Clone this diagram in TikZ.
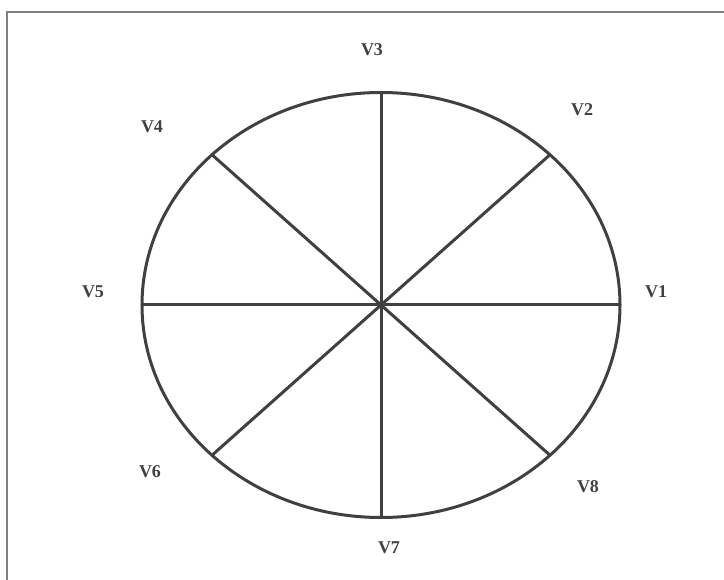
\documentclass[tikz,border=0pt]{standalone}
\usepackage{fontspec}
\setmainfont{Liberation Serif}
\usepackage{xcolor}
\definecolor{wheelgray}{RGB}{64,64,64}
\definecolor{framegray}{RGB}{128,128,128}
\usepackage{tikz}
\usetikzlibrary{calc}

\tikzset{
  spoke/.style={draw=wheelgray, line width=3pt},
  vlabel/.style={font=\fontsize{18}{18}\selectfont\bfseries, text=wheelgray, inner sep=0pt}
}

\begin{document}
\begin{tikzpicture}[x=1pt, y=-1pt]
      \useasboundingbox (0,0) rectangle (724,580);
      % frame, only its top and left sides are in view
      \draw[framegray, line width=1.5pt] (7,580) -- (7,12) -- (724,12);

      \coordinate (c) at (381,305);
      \draw[spoke] (c) ellipse [x radius=239, y radius=212.5];
      \foreach \a [count=\i] in {0,45,...,315}
            \coordinate (v\i) at ($(c)+({239*cos(\a)},{-212.5*sin(\a)})$);
      \foreach \i in {1,...,8}
            \draw[spoke, line cap=round] (c) -- (v\i);

      % labels round the wheel
      \node[vlabel] (lV1) at (656,292) {V1};
      \node[vlabel] (lV2) at (582,110) {V2};
      \node[vlabel] (lV3) at (372,50)  {V3};
      \node[vlabel] (lV4) at (152,127) {V4};
      \node[vlabel] (lV5) at (93,292)  {V5};
      \node[vlabel] (lV6) at (150,472) {V6};
      \node[vlabel] (lV7) at (389,548) {V7};
      \node[vlabel] (lV8) at (588,487) {V8};
    \end{tikzpicture}
\end{document}
